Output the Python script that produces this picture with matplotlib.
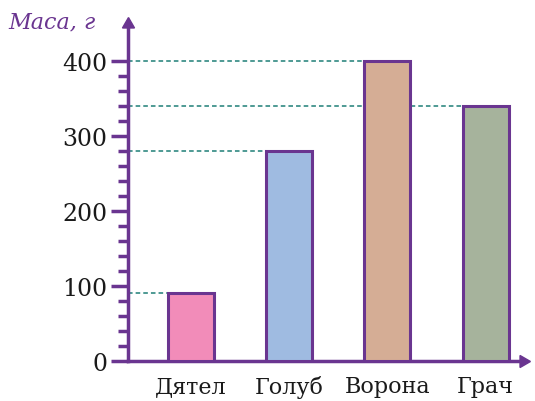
import matplotlib.pyplot as plt
from matplotlib.ticker import FixedLocator

birds = ["Дятел", "Голуб", "Ворона", "Грач"]
mass = [90, 280, 400, 340]
colors = ["#f28cb9", "#9fbbe1", "#d5ad95", "#a6b39c"]
major_ticks = [0, 100, 200, 300, 400]
minor_ticks = list(range(0, 401, 20))

purple = "#6a3590"
teal = "#1e7f76"

fig = plt.figure(figsize=(5.35, 4.02), dpi=100)
ax = fig.add_axes([128 / 535, 40 / 402, (523 - 128) / 535, (362 - 25) / 402])

x = list(range(len(birds)))
width = 0.47
xmin, xmax = -0.64, 3.38
ax.bar(x, mass, width=width, color=colors, edgecolor=purple, linewidth=2.2, zorder=3)

# пунктир от оси до верха столбика
for xi, m in zip(x, mass):
    ax.hlines(m, xmin, xi - width / 2, colors=teal, linestyles=(0, (3, 2)), linewidth=1.1, zorder=2)

ax.set_xlim(xmin, xmax)
ax.set_ylim(0, 449)

for s in ["top", "right"]:
    ax.spines[s].set_visible(False)
for s in ["left", "bottom"]:
    ax.spines[s].set_color(purple)
    ax.spines[s].set_linewidth(2.5)

# стрелки на осях
ax.plot(0, 1, marker=(3, 0, 0), color=purple, markersize=10, transform=ax.transAxes, clip_on=False)
ax.plot(1, 0, marker=(3, 0, -90), color=purple, markersize=10, transform=ax.transAxes, clip_on=False)

ax.yaxis.set_major_locator(FixedLocator(major_ticks))
ax.yaxis.set_minor_locator(FixedLocator(minor_ticks))
ax.tick_params(axis="y", which="major", length=12, width=2.5, color=purple, labelsize=17, pad=3)
ax.tick_params(axis="y", which="minor", length=7, width=2.5, color=purple)
ax.tick_params(axis="x", length=0, labelsize=16, pad=10)
ax.set_xticks(x)
ax.set_xticklabels(birds)
for lab in ax.get_yticklabels() + ax.get_xticklabels():
    lab.set_family("DejaVu Serif")
    lab.set_color("#1a1a1a")

fig.text(8 / 535, 1 - 22 / 402, "Маса, г", color=purple, fontsize=16, style="italic",
         family="DejaVu Serif", va="center", ha="left")

fig.savefig("out.png", dpi=100)
